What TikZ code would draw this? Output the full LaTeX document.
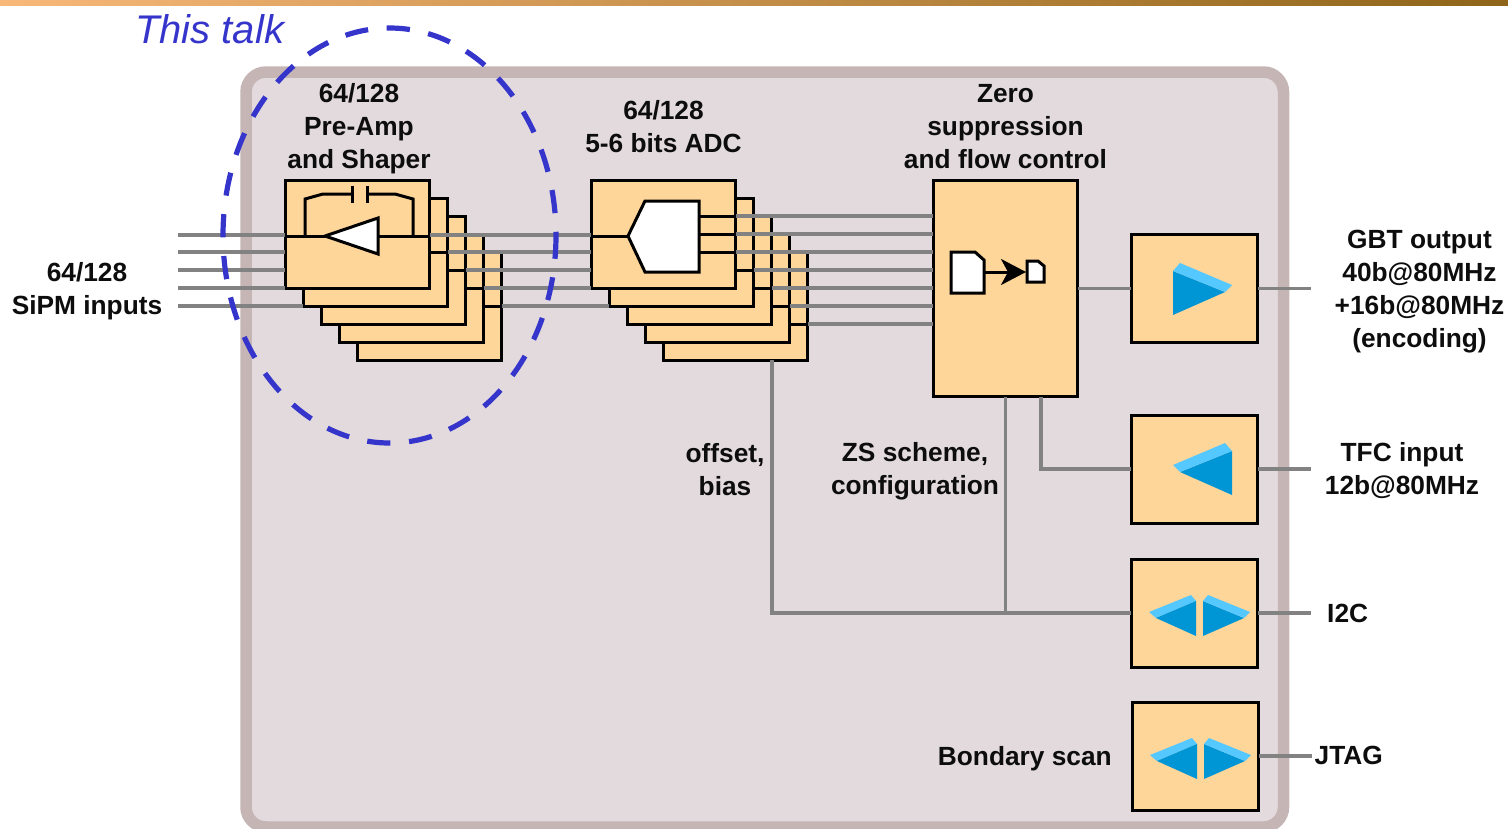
\documentclass[tikz,border=0pt]{standalone}
\usepackage{fontspec}
\setmainfont{Liberation Sans}
\usetikzlibrary{arrows.meta}
\definecolor{panelfill}{HTML}{E2DADC}
\definecolor{paneledge}{HTML}{C6B5B5}
\definecolor{boxfill}{HTML}{FFD699}
\definecolor{wiregrey}{HTML}{828282}
\definecolor{talkblue}{HTML}{3535CC}
\definecolor{bluedark}{HTML}{0096D6}
\definecolor{bluelight}{HTML}{55C8FF}
\definecolor{barleft}{HTML}{F8B878}
\definecolor{barright}{HTML}{8E6518}
\tikzset{
  panel/.style={draw=paneledge,fill=panelfill,line width=11.5pt,rounded corners=20pt},
  blockbox/.style={draw=black,fill=boxfill,line width=3pt,anchor=north west,inner sep=0pt,outer sep=0pt},
  stackbox/.style={blockbox,minimum width=144.5pt,minimum height=108pt},
  iobox/.style={blockbox,minimum width=126.5pt,minimum height=108pt},
  wire/.style={draw=wiregrey,line width=3.3pt},
  inner wire/.style={draw=black,line width=3pt},
  glyph/.style={draw=black,fill=white,line width=3pt,line join=miter},
  lbl/.style={font=\fontsize{26.3}{33}\selectfont\bfseries,align=center,inner sep=0pt,text=black!95},
  darktri/.style={fill=bluedark},
  lighttri/.style={fill=bluelight},
}
\newcommand{\bidir}[2]{%
  \begin{scope}[shift={(#1,#2)}]
    \fill[lighttri] (0,0) -- (42,-17) -- (47,-11) -- (7,6) -- cycle;
    \fill[darktri] (47,-11) -- (7,6) -- (47,24) -- cycle;
    \fill[darktri] (54,-11) -- (95,6) -- (54,24) -- cycle;
    \fill[lighttri] (54,-11) -- (59,-17) -- (101,0) -- (95,6) -- cycle;
  \end{scope}}
\begin{document}
\begin{tikzpicture}[x=1pt,y=-1pt]
\useasboundingbox (0,0) rectangle (1508,828);
\begin{scope}
\clip (0,0) rectangle (1508,828);
\shade[left color=barleft,right color=barright] (0,0) rectangle (1508,5);
\path[panel] (246,72) rectangle (1283.5,827);
\end{scope}
% stacks
\node[stackbox] (pa5) at (357,252) {};
\node[stackbox] (pa4) at (339,234) {};
\node[stackbox] (pa3) at (321,216) {};
\node[stackbox] (pa2) at (303,198) {};
\node[stackbox] (pa1) at (285,180) {};
\node[stackbox] (adc5) at (663,252) {};
\node[stackbox] (adc4) at (645,234) {};
\node[stackbox] (adc3) at (627,216) {};
\node[stackbox] (adc2) at (609,198) {};
\node[stackbox] (adc1) at (591,180) {};
% other blocks
\node[blockbox,minimum width=144.5pt,minimum height=216.5pt] (zs) at (933,180) {};
\node[iobox] (gbt) at (1131,234.5) {};
\node[iobox] (tfc) at (1131,415) {};
\node[iobox] (i2c) at (1131,559) {};
\node[iobox] (jtag) at (1132,702) {};
% free ends
\coordinate (in1) at (178,235);
\coordinate (in2) at (178,252);
\coordinate (in3) at (178,270);
\coordinate (in4) at (178,288);
\coordinate (in5) at (178,306);
\coordinate (o1) at (736,216);
\coordinate (o2) at (736,234);
\coordinate (o3) at (736,252);
\coordinate (o4) at (754,270);
\coordinate (o5) at (772,288);
\coordinate (o6) at (790,306);
\coordinate (o7) at (808,324);
\coordinate (gbtout) at (1311,288.5);
\coordinate (tfcin) at (1311,469);
\coordinate (i2cout) at (1311,613);
\coordinate (jtagout) at (1312,756);
\coordinate (zsa) at (1041,397);
\coordinate (zsb) at (1005.5,397);
\coordinate (adcb) at (772,360);
% grey wires
\draw[wire] (in1) -- (in1 -| pa1.west);
\draw[wire] (in2) -- (in2 -| pa1.west);
\draw[wire] (in3) -- (in3 -| pa1.west);
\draw[wire] (in4) -- (in4 -| pa1.west);
\draw[wire] (in5) -- (in5 -| pa2.west);
\draw[wire] (pa1.east |- in1) -- (adc1.west |- in1);
\draw[wire] (pa2.east |- in2) -- (adc1.west |- in2);
\draw[wire] (pa3.east |- in3) -- (adc1.west |- in3);
\draw[wire] (pa4.east |- in4) -- (adc1.west |- in4);
\draw[wire] (pa5.east |- in5) -- (adc2.west |- in5);
\foreach \n in {1,...,7} \draw[wire] (o\n) -- (o\n -| zs.west);
\draw[wire] (zs.east |- gbt.west) -- (gbt.west);
\draw[wire] (gbt.east) -- (gbtout);
\draw[wire] (zsa) |- (tfc.west);
\draw[wire] (tfc.east) -- (tfcin);
\draw[wire] (adcb) |- (i2c.west);
\draw[wire] (zsb) -- (zsb |- i2c.west);
\draw[wire] (i2c.east) -- (i2cout);
\draw[wire] (jtag.east) -- (jtagout);
% inner black wires, preamp stack
\coordinate (ampin) at (325,236);
\coordinate (ampout) at (378,236);
\draw[inner wire] (pa1.west |- ampin) -- (ampin);
\draw[inner wire] (ampout) -- (pa1.east |- ampout);
\draw[inner wire] (pa1.east |- in2) -- (pa2.east |- in2);
\draw[inner wire] (pa2.east |- in3) -- (pa3.east |- in3);
\draw[inner wire] (pa3.east |- in4) -- (pa4.east |- in4);
\draw[inner wire] (pa4.east |- in5) -- (pa5.east |- in5);
% feedback
\draw[inner wire] (305,236) -- (305,199) -- (323,194) -- (352,194);
\draw[inner wire] (413,236) -- (413,199) -- (395,194) -- (367,194);
\draw[inner wire] (352,185.5) -- (352,203);
\draw[inner wire] (367,185.5) -- (367,203);
\draw[glyph] (ampin) -- (378,218) -- (378,254) -- cycle;
% ADC internals
\coordinate (adcin) at (628,236);
\draw[inner wire] (adc1.west |- adcin) -- (adcin);
\draw[inner wire] (699,216) -- (o1);
\draw[inner wire] (699,234) -- (o2);
\draw[inner wire] (699,252) -- (o3);
\draw[inner wire] (adc1.east |- o4) -- (o4);
\draw[inner wire] (adc2.east |- o5) -- (o5);
\draw[inner wire] (adc3.east |- o6) -- (o6);
\draw[inner wire] (adc4.east |- o7) -- (o7);
\draw[glyph] (adcin) -- (645,201) -- (699,201) -- (699,272) -- (645,272) -- cycle;
% zero-suppression glyph
\coordinate (docbig) at (984,272);
\coordinate (docsmall) at (1026,272);
\draw[inner wire,-{Stealth[length=25pt,width=26pt,inset=7pt]}] (docbig) -- (docsmall);
\draw[glyph] (951,252) -- (975,252) -- (984,260) -- (984,293) -- (951,293) -- cycle;
\draw[glyph] (1027,261) -- (1038,261) -- (1044,266) -- (1044,282) -- (1027,282) -- cycle;
% blue drivers
\fill[darktri] (1173,271) -- (1225,292) -- (1173,315) -- cycle;
\fill[lighttri] (1173,271) -- (1180,263) -- (1232,285) -- (1225,292) -- cycle;
\fill[darktri] (1232,451) -- (1180,472) -- (1232,495) -- cycle;
\fill[lighttri] (1232,451) -- (1225,443) -- (1173,465) -- (1180,472) -- cycle;
\bidir{1149}{612}
\bidir{1150}{755}
% labels
\node[lbl] (l1) at (87,291) {64/128\\SiPM inputs};
\node[lbl] (l2) at (359,129) {64/128\\Pre-Amp\\and Shaper};
\node[lbl] (l3) at (663.5,127) {64/128\\5-6 bits ADC};
\node[lbl] (l4) at (1005.5,126.5) {Zero\\suppression\\and flow control};
\node[lbl] (l5) at (1419.5,292) {GBT output\\40b@80MHz\\+16b@80MHz\\(encoding)};
\node[lbl] (l6) at (1402,471) {TFC input\\12b@80MHz};
\node[lbl,anchor=west] (l7) at (1327,613) {I2C};
\node[lbl,anchor=west] (l8) at (1314.5,755.5) {JTAG};
\node[lbl,anchor=east] (l9) at (1112,759) {Bondary scan};
\node[lbl] (l10) at (725,469.5) {offset,\\bias};
\node[lbl] (l11) at (915,471.5) {ZS scheme,\\configuration};
\node[font=\fontsize{40}{44}\selectfont\itshape,text=talkblue,anchor=west,inner sep=0pt] (talk) at (135,29.5) {This talk};
% ellipse
\draw[draw=talkblue,line width=5.2pt,dash pattern=on 23.3pt off 18.66pt] (389.5,235.5) ellipse [x radius=166.5,y radius=207.5];
\end{tikzpicture}
\end{document}
